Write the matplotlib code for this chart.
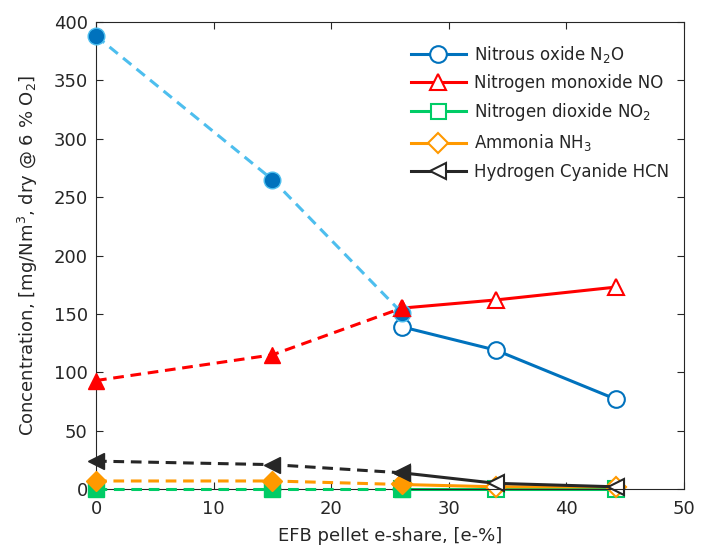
import matplotlib
matplotlib.use("Agg")
import matplotlib.pyplot as plt
from matplotlib.lines import Line2D

# e-share [e-%]
x_dash = [0, 15, 26]
x_solid = [26, 34, 44.2]

# concentrations, mg/Nm3 dry @ 6 % O2
n2o_dash = [388, 265, 151]
n2o_solid = [139, 119, 77]
no_dash = [93, 115, 155]
no_solid = [155, 162, 173]
no2_dash = [0.3, 0.3, 0.3]
no2_solid = [0.3, 0.3, 0.3]
nh3_dash = [7, 7, 4]
nh3_solid = [4, 2, 2]
hcn_dash = [24, 21, 14]
hcn_solid = [14, 5, 2]

labels = [
    "Nitrous oxide N$_2$O",
    "Nitrogen monoxide NO",
    "Nitrogen dioxide NO$_2$",
    "Ammonia NH$_3$",
    "Hydrogen Cyanide HCN",
]

DARK = (0.15, 0.15, 0.15)
plt.rcParams["font.family"] = "DejaVu Sans"
plt.rcParams["text.color"] = DARK

fig = plt.figure(figsize=(7.06, 5.49), dpi=100)
ax = fig.add_axes([0.136, 0.109, 0.833, 0.851])

lw = 2.2
ms = 12

# series drawn from back to front
specs = [
    (no2_dash, no2_solid, "#00CC66", "#00CC66", "s"),
    (nh3_dash, nh3_solid, "#FF9900", "#FF9900", "D"),
    (hcn_dash, hcn_solid, "#262626", "#262626", "<"),
    (n2o_dash, n2o_solid, "#0072BD", "#4DBEEE", "o"),
    (no_dash, no_solid, "#FF0000", "#FF0000", "^"),
]

for i, (dash, solid, col, dcol, mk) in enumerate(specs):
    msz = ms * 0.85 if mk == "D" else ms
    ax.plot(x_solid, solid, linestyle="-", color=col, lw=lw,
            marker=mk, markersize=msz, markerfacecolor="white", markeredgecolor=col,
            markeredgewidth=1.5, clip_on=False, zorder=2 + i * 0.01)
    ax.plot(x_dash, dash, linestyle="--", color=dcol, lw=lw, dashes=(3.5, 2.2),
            marker=mk, markersize=msz, markerfacecolor=col, markeredgecolor=dcol,
            markeredgewidth=1.0, clip_on=False, zorder=3 + i * 0.01)

ax.set_xlim(0, 50)
ax.set_ylim(0, 400)
ax.set_xticks(range(0, 51, 10))
ax.set_yticks(range(0, 401, 50))
ax.tick_params(direction="in", top=True, right=True, labelsize=13,
               colors=DARK, length=5)
ax.tick_params(axis="x", pad=8)
ax.tick_params(axis="y", pad=6)
for s in ax.spines.values():
    s.set_color(DARK)

ax.set_xlabel("EFB pellet e-share, [e-%]", fontsize=13, color=DARK, labelpad=6)
ax.set_ylabel("Concentration, [mg/Nm$^3$, dry @ 6 % O$_2$]", fontsize=13,
              color=DARK, labelpad=10)

handle_specs = [
    ("#0072BD", "o", ms),
    ("#FF0000", "^", ms),
    ("#00CC66", "s", ms * 0.9),
    ("#FF9900", "D", ms * 0.85),
    ("#262626", "<", ms),
]
handles = [Line2D([], [], color=c, lw=lw, marker=m, markersize=s,
                  markerfacecolor="white", markeredgecolor=c, markeredgewidth=1.5)
           for c, m, s in handle_specs]
ax.legend(handles, labels, loc="upper right", frameon=False, fontsize=12,
          handlelength=3.3, handletextpad=0.5, labelspacing=0.55,
          bbox_to_anchor=(1.0, 0.985))

fig.savefig("out.png", dpi=100)
